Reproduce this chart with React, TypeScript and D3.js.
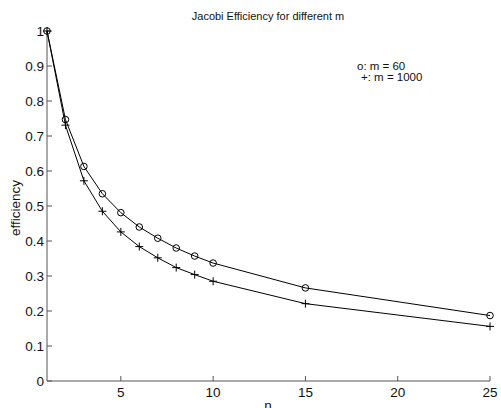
import React from "react";
import * as d3 from "d3";

const nValues = [1, 2, 3, 4, 5, 6, 7, 8, 9, 10, 15, 25];
const effM60 = [1, 0.747, 0.613, 0.535, 0.481, 0.44, 0.408, 0.38, 0.357, 0.337, 0.266, 0.187];
const effM1000 = [1, 0.731, 0.572, 0.485, 0.426, 0.384, 0.352, 0.324, 0.304, 0.285, 0.221, 0.156];
const xTicks = [5, 10, 15, 20, 25];
const yTicks = [0, 0.1, 0.2, 0.3, 0.4, 0.5, 0.6, 0.7, 0.8, 0.9, 1];
const yTickLabels = ["0", "0.1", "0.2", "0.3", "0.4", "0.5", "0.6", "0.7", "0.8", "0.9", "1"];

export default function App() {
  const W = 501, H = 408;
  const x = d3.scaleLinear().domain([1, 25]).range([47, 490]);
  const y = d3.scaleLinear().domain([0, 1]).range([381, 31]);
  const line = d3.line<number>().x((_, i) => x(nValues[i])).y((d) => y(d));
  const font = "Liberation Sans, Arial, Helvetica, sans-serif";
  const axisColor = "#555";
  return (
    <svg width={W} height={H} style={{ position: "absolute", left: 0, top: 0, background: "#fff" }}>
      <g fontFamily={font} fontSize={13.5} fill="#111">
        <line x1={x(1)} x2={x(1)} y1={y(1)} y2={y(0)} stroke={axisColor} strokeWidth={1} />
        <line x1={x(1)} x2={x(25)} y1={y(0)} y2={y(0)} stroke={axisColor} strokeWidth={1} />
        {yTicks.map((t, i) => (
          <g key={"y" + i}>
            <line x1={x(1)} x2={x(1) + 5} y1={y(t)} y2={y(t)} stroke={axisColor} />
            <text x={x(1) - 3} y={y(t)} dy="0.35em" textAnchor="end">{yTickLabels[i]}</text>
          </g>
        ))}
        {xTicks.map((t) => (
          <g key={"x" + t}>
            <line x1={x(t)} x2={x(t)} y1={y(0)} y2={y(0) - 5} stroke={axisColor} />
            <text x={x(t)} y={y(0) + 16} textAnchor="middle">{t}</text>
          </g>
        ))}
        <text x={268} y={20} textAnchor="middle" fontSize={11}>Jacobi Efficiency for different m</text>
        <text x={357} y={70} fontSize={11.5}>o: m = 60</text>
        <text x={361} y={81} fontSize={11.5}>+: m = 1000</text>
        <text x={268} y={410} textAnchor="middle">n</text>
        <text transform={`translate(20,208) rotate(-90)`} textAnchor="middle">efficiency</text>
      </g>
      <path d={line(effM60) || ""} fill="none" stroke="#000" strokeWidth={1} />
      <path d={line(effM1000) || ""} fill="none" stroke="#000" strokeWidth={1} />
      {effM60.map((v, i) => (
        <circle key={"c" + i} cx={x(nValues[i])} cy={y(v)} r={3.3} fill="none" stroke="#000" strokeWidth={1} />
      ))}
      {effM1000.map((v, i) => (
        <g key={"p" + i} stroke="#000" strokeWidth={1}>
          <line x1={x(nValues[i]) - 4} x2={x(nValues[i]) + 4} y1={y(v)} y2={y(v)} />
          <line x1={x(nValues[i])} x2={x(nValues[i])} y1={y(v) - 4} y2={y(v) + 4} />
        </g>
      ))}
    </svg>
  );
}
